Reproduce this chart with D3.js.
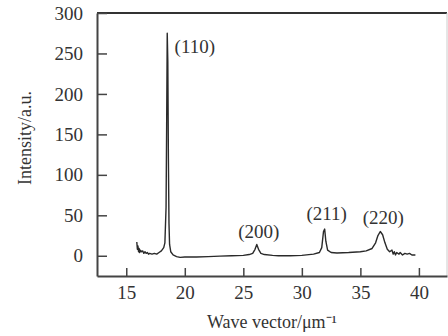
<!DOCTYPE html>
<meta charset="utf-8">
<script src="https://d3js.org/d3.v7.min.js"></script>
<body style="margin:0;background:#fff">
<div id="chart"></div>
<script>

// spectrum
var waveVector = [15.9, 15.95, 16.0, 16.05, 16.1, 16.15, 16.2, 16.3, 16.4, 16.5, 16.6, 16.7, 16.8, 16.9, 17.0, 17.2, 17.4, 17.6, 17.8, 18.0,
  18.2, 18.3, 18.4, 18.45, 18.5, 18.55, 18.6, 18.65, 18.7, 18.8, 19.0, 19.3, 19.6, 20, 21, 22, 23, 24, 25, 25.5,
  25.8, 26.0, 26.15, 26.3, 26.5, 26.8, 27.5, 28, 29, 30, 31, 31.5, 31.7, 31.85, 31.95, 32.05, 32.2, 32.5, 33, 34,
  35, 35.5, 36, 36.3, 36.5, 36.7, 36.9, 37.1, 37.3, 37.5, 37.7, 37.8, 37.9, 38.0, 38.1, 38.3, 38.4, 38.6, 38.8, 39.0,
  39.2, 39.4, 39.7];
var intensity = [17, 8, 12, 5, 9, 4, 7, 5, 6, 3, 5, 3, 4, 2, 3, 2, 3, 2, 4, 6,
  10, 16, 60, 160, 275, 240, 120, 40, 14, 5, 1, -1, -2, -1.5, -1.5, -1, -0.5, 0, 0.5, 1.5,
  3, 8, 14, 8, 3, 1.5, 0.5, 0, 0, 0.5, 2, 4, 10, 30, 33, 18, 7, 4, 3.5, 4,
  5, 6, 9, 16, 25, 30, 26, 16, 8, 5, 7, 2, 5, 1, 4, 2, 4, 1, 3, 2,
  3, 1, 1];

var xTicks = [15, 20, 25, 30, 35, 40];
var yTicks = [0, 50, 100, 150, 200, 250, 300];

var peakLabels = ["(110)", "(200)", "(211)", "(220)"];
var peakX = [18.55, 26.15, 31.95, 36.7];
var peakY = [275, 14, 33, 30];

var W = 448, H = 336;
var margin = {top: 13, right: 1, bottom: 60, left: 97};
var width = W - margin.left - margin.right,
    height = H - margin.top - margin.bottom;

var font = "'Liberation Serif', 'Times New Roman', serif";

var svg = d3.select("#chart").append("svg")
    .attr("width", W).attr("height", H)
    .style("display", "block");

svg.append("rect").attr("width", W).attr("height", H).attr("fill", "#fff");

var g = svg.append("g")
    .attr("transform", "translate(" + margin.left + "," + margin.top + ")");

var x = d3.scaleLinear().domain([12.5, 42.4]).range([0, width]);
var y = d3.scaleLinear().domain([-25, 300]).range([height, 0]);

// top and right frame
g.append("line").attr("x1", 0).attr("x2", width).attr("y1", 0).attr("y2", 0)
    .attr("stroke", "#333").attr("stroke-width", 2);
g.append("line").attr("x1", width).attr("x2", width).attr("y1", 0).attr("y2", height)
    .attr("stroke", "#ccc").attr("stroke-width", 1);

// axes, ticks point inward
var xAxis = g.append("g")
    .attr("transform", "translate(0," + height + ")")
    .call(d3.axisBottom(x).tickValues(xTicks).tickSize(-8).tickPadding(10).tickSizeOuter(0));
var yAxis = g.append("g")
    .call(d3.axisLeft(y).tickValues(yTicks).tickSize(-10).tickPadding(14).tickSizeOuter(0));

[xAxis, yAxis].forEach(function(a) {
  a.select(".domain").attr("stroke", "#444").attr("stroke-width", 2);
  a.selectAll(".tick line").attr("stroke", "#444").attr("stroke-width", 1.5);
  a.selectAll("text").attr("fill", "#333").style("font-family", font).style("font-size", "19px");
});

// spectrum
var pts = waveVector.map(function(v, i) { return [v, intensity[i]]; });
g.append("path")
    .datum(pts)
    .attr("fill", "none")
    .attr("stroke", "#2a2a2a")
    .attr("stroke-width", 1.4)
    .attr("stroke-linejoin", "round")
    .attr("d", d3.line().x(function(d) { return x(d[0]); }).y(function(d) { return y(d[1]); }));

// peak labels, nudged from their peaks
var labelDx = [27, 2, 2, 3];
var labelDy = [20, -6, -9, -7];
peakLabels.forEach(function(t, i) {
  g.append("text")
    .attr("x", x(peakX[i]) + labelDx[i])
    .attr("y", y(peakY[i]) + labelDy[i])
    .attr("text-anchor", "middle")
    .attr("fill", "#333")
    .style("font-family", font).style("font-size", "19px")
    .text(t);
});

// axis titles
svg.append("text")
    .attr("x", 272).attr("y", 328)
    .attr("text-anchor", "middle")
    .attr("fill", "#333")
    .style("font-family", font).style("font-size", "18px")
    .text("Wave vector/\u03bcm\u207b\u00b9");

svg.append("text")
    .attr("transform", "translate(31,138) rotate(-90)")
    .attr("text-anchor", "middle")
    .attr("fill", "#333")
    .style("font-family", font).style("font-size", "18px")
    .text("Intensity/a.u.");

</script>
</body>
